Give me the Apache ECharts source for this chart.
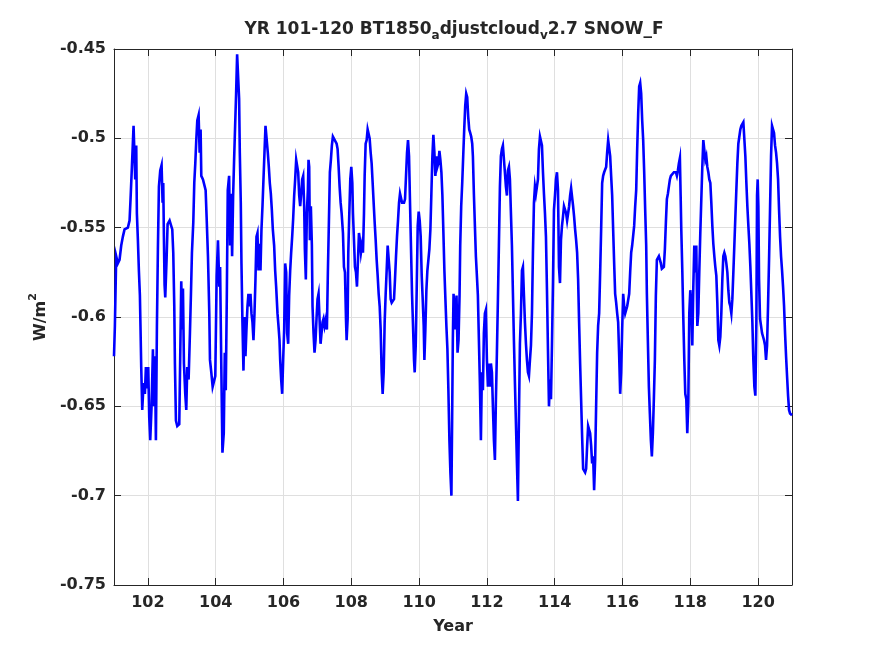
<!DOCTYPE html>
<html lang="en">

<head>
    <meta charset="UTF-8">
    <title>YR 101-120 SNOW_F</title>
    <style>
        html, body { margin: 0; padding: 0; background: #fff; }
        #chart { width: 875px; height: 656px; }
    </style>
</head>

<body>
    <div id="chart"></div>

    <script src="https://cdn.jsdelivr.net/npm/echarts@6/dist/echarts.min.js"></script>
    <script>
        // ---- data (model year, SNOW_F in W/m2) ----
        var years = [
            101.000, 101.026, 101.065, 101.114, 101.163, 101.213, 101.262, 101.311, 101.409, 101.459,
            101.488, 101.528, 101.577, 101.626, 101.656, 101.675, 101.705, 101.734, 101.764, 101.783,
            101.803, 101.833, 101.872, 101.911, 101.941, 101.970, 102.010, 102.039, 102.069, 102.108,
            102.148, 102.177, 102.207, 102.236, 102.266, 102.295, 102.325, 102.364, 102.404, 102.433,
            102.453, 102.472, 102.492, 102.512, 102.551, 102.581, 102.640, 102.689, 102.719, 102.748,
            102.778, 102.797, 102.827, 102.866, 102.925, 102.955, 102.984, 103.014, 103.034, 103.063,
            103.102, 103.132, 103.161, 103.201, 103.240, 103.270, 103.299, 103.339, 103.368, 103.398,
            103.427, 103.457, 103.496, 103.526, 103.555, 103.575, 103.624, 103.673, 103.703, 103.732,
            103.772, 103.811, 103.831, 103.870, 103.910, 103.949, 103.988, 104.028, 104.067, 104.106,
            104.130, 104.160, 104.199, 104.238, 104.268, 104.297, 104.327, 104.356, 104.396, 104.425,
            104.455, 104.484, 104.514, 104.543, 104.573, 104.602, 104.632, 104.661, 104.691, 104.711,
            104.740, 104.760, 104.789, 104.819, 104.848, 104.878, 104.907, 104.937, 104.966, 104.996,
            105.026, 105.055, 105.085, 105.114, 105.144, 105.173, 105.203, 105.232, 105.262, 105.291,
            105.321, 105.350, 105.380, 105.409, 105.439, 105.469, 105.508, 105.537, 105.567, 105.596,
            105.626, 105.656, 105.685, 105.724, 105.754, 105.783, 105.823, 105.852, 105.882, 105.902,
            105.931, 105.961, 105.990, 106.020, 106.049, 106.079, 106.108, 106.138, 106.167, 106.197,
            106.226, 106.256, 106.285, 106.315, 106.344, 106.374, 106.404, 106.433, 106.463, 106.492,
            106.522, 106.551, 106.581, 106.610, 106.630, 106.659, 106.689, 106.719, 106.738, 106.758,
            106.778, 106.807, 106.837, 106.856, 106.886, 106.915, 106.945, 106.974, 107.004, 107.034,
            107.063, 107.093, 107.122, 107.152, 107.181, 107.211, 107.250, 107.280, 107.309, 107.339,
            107.368, 107.398, 107.427, 107.457, 107.496, 107.567, 107.596, 107.626, 107.655, 107.685,
            107.715, 107.754, 107.783, 107.813, 107.843, 107.862, 107.892, 107.911, 107.941, 107.970,
            108.000, 108.030, 108.049, 108.079, 108.108, 108.138, 108.167, 108.197, 108.226, 108.256,
            108.285, 108.315, 108.344, 108.374, 108.394, 108.423, 108.453, 108.482, 108.512, 108.541,
            108.571, 108.600, 108.630, 108.659, 108.689, 108.719, 108.748, 108.778, 108.807, 108.837,
            108.866, 108.896, 108.925, 108.955, 108.984, 109.014, 109.043, 109.073, 109.102, 109.132,
            109.161, 109.191, 109.230, 109.260, 109.289, 109.319, 109.348, 109.378, 109.408, 109.437,
            109.467, 109.496, 109.526, 109.555, 109.585, 109.614, 109.644, 109.673, 109.703, 109.732,
            109.762, 109.791, 109.821, 109.850, 109.870, 109.900, 109.929, 109.959, 109.988, 110.018,
            110.047, 110.077, 110.106, 110.136, 110.156, 110.185, 110.215, 110.244, 110.274, 110.303,
            110.333, 110.362, 110.392, 110.421, 110.451, 110.480, 110.510, 110.539, 110.569, 110.599,
            110.628, 110.658, 110.687, 110.717, 110.746, 110.776, 110.805, 110.835, 110.864, 110.894,
            110.923, 110.953, 110.975, 110.995, 111.016, 111.045, 111.075, 111.104, 111.134, 111.163,
            111.193, 111.213, 111.242, 111.272, 111.301, 111.331, 111.360, 111.390, 111.419, 111.449,
            111.478, 111.508, 111.537, 111.567, 111.587, 111.616, 111.646, 111.675, 111.705, 111.734,
            111.764, 111.793, 111.823, 111.852, 111.882, 111.911, 111.941, 111.970, 112.000, 112.030,
            112.059, 112.089, 112.118, 112.148, 112.177, 112.207, 112.236, 112.266, 112.295, 112.325,
            112.354, 112.384, 112.413, 112.443, 112.472, 112.502, 112.531, 112.561, 112.591, 112.620,
            112.650, 112.679, 112.709, 112.738, 112.768, 112.797, 112.827, 112.856, 112.886, 112.915,
            112.945, 112.974, 113.004, 113.034, 113.063, 113.093, 113.122, 113.152, 113.181, 113.211,
            113.240, 113.270, 113.299, 113.329, 113.358, 113.388, 113.417, 113.447, 113.476, 113.506,
            113.535, 113.565, 113.595, 113.624, 113.654, 113.683, 113.713, 113.742, 113.772, 113.801,
            113.831, 113.860, 113.890, 113.919, 113.949, 113.978, 114.008, 114.037, 114.067, 114.097,
            114.126, 114.156, 114.185, 114.215, 114.244, 114.274, 114.303, 114.337, 114.366, 114.396,
            114.425, 114.455, 114.484, 114.514, 114.543, 114.573, 114.602, 114.632, 114.661, 114.691,
            114.720, 114.750, 114.779, 114.809, 114.839, 114.868, 114.898, 114.927, 114.957, 114.986,
            115.016, 115.045, 115.075, 115.104, 115.134, 115.163, 115.193, 115.222, 115.252, 115.281,
            115.311, 115.341, 115.370, 115.400, 115.429, 115.459, 115.488, 115.518, 115.547, 115.577,
            115.606, 115.636, 115.665, 115.695, 115.724, 115.754, 115.783, 115.813, 115.843, 115.872,
            115.902, 115.931, 115.961, 115.990, 116.020, 116.049, 116.079, 116.108, 116.138, 116.167,
            116.197, 116.226, 116.256, 116.285, 116.315, 116.344, 116.374, 116.404, 116.433, 116.463,
            116.492, 116.522, 116.551, 116.581, 116.610, 116.640, 116.669, 116.699, 116.719, 116.748,
            116.778, 116.807, 116.837, 116.866, 116.896, 116.925, 116.955, 116.984, 117.014, 117.043,
            117.073, 117.102, 117.132, 117.161, 117.191, 117.220, 117.250, 117.280, 117.309, 117.339,
            117.368, 117.398, 117.427, 117.457, 117.516, 117.575, 117.604, 117.634, 117.663, 117.693,
            117.715, 117.734, 117.764, 117.793, 117.823, 117.852, 117.882, 117.911, 117.941, 117.970,
            118.000, 118.030, 118.059, 118.089, 118.118, 118.148, 118.177, 118.207, 118.236, 118.266,
            118.295, 118.325, 118.354, 118.384, 118.413, 118.443, 118.472, 118.502, 118.532, 118.561,
            118.591, 118.620, 118.650, 118.679, 118.709, 118.738, 118.768, 118.797, 118.827, 118.856,
            118.886, 118.915, 118.945, 118.974, 119.004, 119.034, 119.063, 119.093, 119.122, 119.152,
            119.181, 119.211, 119.240, 119.270, 119.299, 119.329, 119.358, 119.388, 119.417, 119.447,
            119.476, 119.506, 119.535, 119.565, 119.595, 119.624, 119.654, 119.683, 119.713, 119.742,
            119.772, 119.801, 119.831, 119.860, 119.890, 119.919, 119.949, 119.969, 119.988, 120.008,
            120.028, 120.057, 120.087, 120.116, 120.146, 120.175, 120.205, 120.234, 120.264, 120.293,
            120.323, 120.352, 120.382, 120.411, 120.441, 120.470, 120.500, 120.530, 120.559, 120.589,
            120.618, 120.648, 120.677, 120.707, 120.736, 120.766, 120.795, 120.825, 120.854, 120.884,
            120.913, 120.943, 120.972, 121.000
        ];

        var snowF = [
            -0.622, -0.605, -0.566, -0.570, -0.568, -0.560, -0.555, -0.551, -0.550, -0.546,
            -0.534, -0.516, -0.493, -0.523, -0.504, -0.542, -0.557, -0.574, -0.588, -0.607,
            -0.628, -0.652, -0.637, -0.643, -0.628, -0.640, -0.628, -0.656, -0.669, -0.650,
            -0.618, -0.650, -0.622, -0.669, -0.605, -0.562, -0.527, -0.518, -0.515, -0.536,
            -0.525, -0.555, -0.582, -0.589, -0.568, -0.548, -0.546, -0.547, -0.551, -0.564,
            -0.594, -0.626, -0.658, -0.661, -0.660, -0.620, -0.580, -0.607, -0.584, -0.626,
            -0.643, -0.652, -0.628, -0.635, -0.609, -0.587, -0.564, -0.547, -0.525, -0.514,
            -0.501, -0.490, -0.487, -0.508, -0.495, -0.521, -0.523, -0.523, -0.529, -0.544,
            -0.566, -0.598, -0.624, -0.631, -0.639, -0.640, -0.633, -0.577, -0.557, -0.583,
            -0.572, -0.620, -0.676, -0.665, -0.620, -0.641, -0.590, -0.529, -0.521, -0.560,
            -0.531, -0.566, -0.532, -0.512, -0.493, -0.475, -0.453, -0.453, -0.478, -0.508,
            -0.536, -0.570, -0.603, -0.630, -0.600, -0.622, -0.607, -0.594, -0.587, -0.594,
            -0.587, -0.598, -0.603, -0.613, -0.598, -0.579, -0.555, -0.553, -0.574, -0.559,
            -0.574, -0.551, -0.538, -0.523, -0.508, -0.493, -0.493, -0.508, -0.516, -0.525,
            -0.531, -0.540, -0.551, -0.560, -0.574, -0.583, -0.598, -0.605, -0.613, -0.624,
            -0.635, -0.643, -0.624, -0.607, -0.570, -0.575, -0.609, -0.615, -0.588, -0.574,
            -0.564, -0.555, -0.545, -0.532, -0.523, -0.512, -0.511, -0.519, -0.532, -0.538,
            -0.531, -0.523, -0.521, -0.538, -0.562, -0.579, -0.542, -0.529, -0.512, -0.516,
            -0.557, -0.538, -0.560, -0.594, -0.609, -0.620, -0.613, -0.601, -0.590, -0.587,
            -0.601, -0.615, -0.609, -0.603, -0.601, -0.605, -0.601, -0.607, -0.575, -0.547,
            -0.519, -0.512, -0.504, -0.499, -0.499, -0.503, -0.506, -0.516, -0.527, -0.536,
            -0.542, -0.553, -0.572, -0.575, -0.601, -0.613, -0.601, -0.564, -0.542, -0.523,
            -0.516, -0.525, -0.542, -0.557, -0.572, -0.575, -0.583, -0.568, -0.553, -0.557,
            -0.564, -0.560, -0.564, -0.542, -0.521, -0.503, -0.501, -0.495, -0.494, -0.500,
            -0.508, -0.514, -0.525, -0.536, -0.547, -0.557, -0.568, -0.577, -0.587, -0.594,
            -0.607, -0.631, -0.643, -0.631, -0.603, -0.587, -0.574, -0.560, -0.559, -0.575,
            -0.590, -0.592, -0.592, -0.590, -0.579, -0.566, -0.555, -0.546, -0.536, -0.531,
            -0.532, -0.536, -0.537, -0.536, -0.534, -0.521, -0.508, -0.501, -0.510, -0.536,
            -0.562, -0.587, -0.605, -0.624, -0.631, -0.616, -0.585, -0.549, -0.541, -0.546,
            -0.555, -0.577, -0.590, -0.605, -0.624, -0.607, -0.585, -0.574, -0.568, -0.562,
            -0.551, -0.531, -0.510, -0.498, -0.508, -0.521, -0.510, -0.516, -0.514, -0.507,
            -0.512, -0.519, -0.532, -0.553, -0.574, -0.590, -0.605, -0.618, -0.641, -0.669,
            -0.687, -0.700, -0.656, -0.613, -0.587, -0.596, -0.607, -0.588, -0.620, -0.613,
            -0.588, -0.560, -0.538, -0.525, -0.510, -0.495, -0.482, -0.475, -0.477, -0.488,
            -0.495, -0.497, -0.499, -0.503, -0.510, -0.531, -0.549, -0.566, -0.577, -0.588,
            -0.613, -0.637, -0.669, -0.631, -0.641, -0.609, -0.598, -0.596, -0.624, -0.639,
            -0.626, -0.639, -0.626, -0.631, -0.650, -0.669, -0.680, -0.646, -0.620, -0.590,
            -0.560, -0.527, -0.510, -0.506, -0.504, -0.504, -0.519, -0.527, -0.532, -0.518,
            -0.516, -0.523, -0.542, -0.560, -0.587, -0.613, -0.637, -0.659, -0.682, -0.703,
            -0.656, -0.615, -0.598, -0.574, -0.572, -0.588, -0.603, -0.615, -0.624, -0.631,
            -0.633, -0.624, -0.616, -0.598, -0.564, -0.536, -0.527, -0.531, -0.527, -0.523,
            -0.506, -0.499, -0.498, -0.504, -0.519, -0.531, -0.542, -0.555, -0.585, -0.618,
            -0.650, -0.635, -0.646, -0.616, -0.581, -0.540, -0.532, -0.523, -0.519, -0.529,
            -0.572, -0.581, -0.557, -0.549, -0.544, -0.538, -0.537, -0.542, -0.546, -0.546,
            -0.538, -0.532, -0.528, -0.529, -0.538, -0.544, -0.551, -0.557, -0.564, -0.579,
            -0.603, -0.626, -0.646, -0.667, -0.685, -0.686, -0.687, -0.685, -0.672, -0.661,
            -0.661, -0.665, -0.672, -0.682, -0.678, -0.697, -0.680, -0.650, -0.620, -0.605,
            -0.598, -0.575, -0.551, -0.525, -0.521, -0.519, -0.519, -0.516, -0.508, -0.501,
            -0.501, -0.510, -0.521, -0.532, -0.551, -0.570, -0.587, -0.592, -0.598, -0.603,
            -0.622, -0.643, -0.631, -0.607, -0.587, -0.594, -0.598, -0.596, -0.594, -0.594,
            -0.587, -0.575, -0.564, -0.560, -0.559, -0.549, -0.538, -0.529, -0.506, -0.486,
            -0.471, -0.469, -0.475, -0.490, -0.501, -0.519, -0.540, -0.560, -0.587, -0.613,
            -0.639, -0.654, -0.669, -0.678, -0.665, -0.646, -0.624, -0.588, -0.568, -0.567,
            -0.566, -0.567, -0.570, -0.573, -0.573, -0.572, -0.562, -0.547, -0.534, -0.531,
            -0.527, -0.523, -0.521, -0.520, -0.519, -0.519, -0.521, -0.518, -0.514, -0.511,
            -0.532, -0.551, -0.574, -0.600, -0.624, -0.643, -0.646, -0.665, -0.648, -0.598,
            -0.585, -0.594, -0.616, -0.583, -0.560, -0.575, -0.560, -0.605, -0.598, -0.574,
            -0.553, -0.534, -0.516, -0.501, -0.501, -0.512, -0.510, -0.516, -0.519, -0.523,
            -0.525, -0.536, -0.549, -0.559, -0.566, -0.572, -0.577, -0.592, -0.613, -0.616,
            -0.611, -0.598, -0.579, -0.566, -0.564, -0.566, -0.570, -0.575, -0.585, -0.592,
            -0.594, -0.598, -0.590, -0.575, -0.560, -0.544, -0.529, -0.514, -0.503, -0.499,
            -0.495, -0.493, -0.492, -0.491, -0.491, -0.510, -0.525, -0.538, -0.549, -0.559,
            -0.572, -0.587, -0.603, -0.624, -0.639, -0.644, -0.603, -0.532, -0.523, -0.538,
            -0.579, -0.601, -0.605, -0.609, -0.609, -0.613, -0.616, -0.624, -0.616, -0.594,
            -0.568, -0.540, -0.510, -0.493, -0.494, -0.497, -0.504, -0.508, -0.514, -0.523,
            -0.540, -0.555, -0.566, -0.574, -0.583, -0.594, -0.609, -0.622, -0.633, -0.644,
            -0.652, -0.654, -0.655, -0.655
        ];

        var xTicks = [102, 104, 106, 108, 110, 112, 114, 116, 118, 120];

        var chart = echarts.init(document.getElementById('chart'), null, { renderer: 'canvas' });

        var font = 'DejaVu Sans';
        var ink = '#262626';

        var points = [];
        for (var i = 0; i < years.length; i++) {
            points.push([years[i], snowF[i]]);
        }

        var option = {
            backgroundColor: '#fff',
            animation: false,
            title: {
                text: '{n|YR 101-120 BT1850}{s|a}{n|djustcloud}{s|v}{n|2.7 SNOW_F}',
                left: 449,
                top: 16,
                textAlign: 'center',
                textStyle: {
                    rich: {
                        n: { fontFamily: font, fontWeight: 'bold', fontSize: 17, color: ink, verticalAlign: 'top' },
                        s: { fontFamily: font, fontWeight: 'bold', fontSize: 12, color: ink, verticalAlign: 'top', padding: [9, 0, 0, 0] }
                    }
                }
            },
            grid: {
                left: 114,
                right: 83,
                top: 49,
                bottom: 71,
                containLabel: false
            },
            xAxis: [{
                type: 'value',
                min: 101,
                max: 121,
                name: 'Year',
                nameLocation: 'middle',
                nameGap: 34,
                nameTextStyle: { fontFamily: font, fontWeight: 'bold', fontSize: 16, color: ink },
                axisLine: { onZero: false, lineStyle: { color: ink, width: 1 } },
                axisTick: { inside: true, length: 7, customValues: xTicks, lineStyle: { color: ink } },
                axisLabel: {
                    customValues: xTicks,
                    margin: 10,
                    fontFamily: font, fontWeight: 'bold', fontSize: 16, color: ink
                },
                splitLine: { show: true, lineStyle: { color: '#dfdfdf', width: 1 } }
            }, {
                type: 'value',
                position: 'top',
                min: 101,
                max: 121,
                axisLine: { onZero: false, lineStyle: { color: ink, width: 1 } },
                axisTick: { inside: true, length: 7, customValues: xTicks, lineStyle: { color: ink } },
                axisLabel: { show: false },
                splitLine: { show: false }
            }],
            yAxis: [{
                type: 'value',
                min: -0.75,
                max: -0.45,
                interval: 0.05,
                name: '{n|W/m}{p|2}',
                nameLocation: 'middle',
                nameGap: 62,
                nameRotate: 90,
                nameTextStyle: {
                    rich: {
                        n: { fontFamily: font, fontWeight: 'bold', fontSize: 16, color: ink, verticalAlign: 'top', padding: [5, 0, 0, 0] },
                        p: { fontFamily: font, fontWeight: 'bold', fontSize: 11, color: ink, verticalAlign: 'top' }
                    }
                },
                axisLine: { onZero: false, lineStyle: { color: ink, width: 1 } },
                axisTick: { inside: true, length: 7, lineStyle: { color: ink } },
                axisLabel: {
                    margin: 8,
                    fontFamily: font, fontWeight: 'bold', fontSize: 16, color: ink,
                    formatter: function (v) { return String(parseFloat(v.toFixed(2))); }
                },
                splitLine: { show: true, lineStyle: { color: '#dfdfdf', width: 1 } }
            }, {
                type: 'value',
                position: 'right',
                min: -0.75,
                max: -0.45,
                interval: 0.05,
                axisLine: { onZero: false, lineStyle: { color: ink, width: 1 } },
                axisTick: { inside: true, length: 7, lineStyle: { color: ink } },
                axisLabel: { show: false },
                splitLine: { show: false }
            }],
            series: [{
                type: 'line',
                xAxisIndex: 0,
                yAxisIndex: 0,
                data: points,
                showSymbol: false,
                symbol: 'none',
                lineStyle: { color: '#0000ff', width: 2.6, join: 'miter' },
                clip: true
            }]
        };

        chart.setOption(option, true);
    </script>
</body>

</html>
